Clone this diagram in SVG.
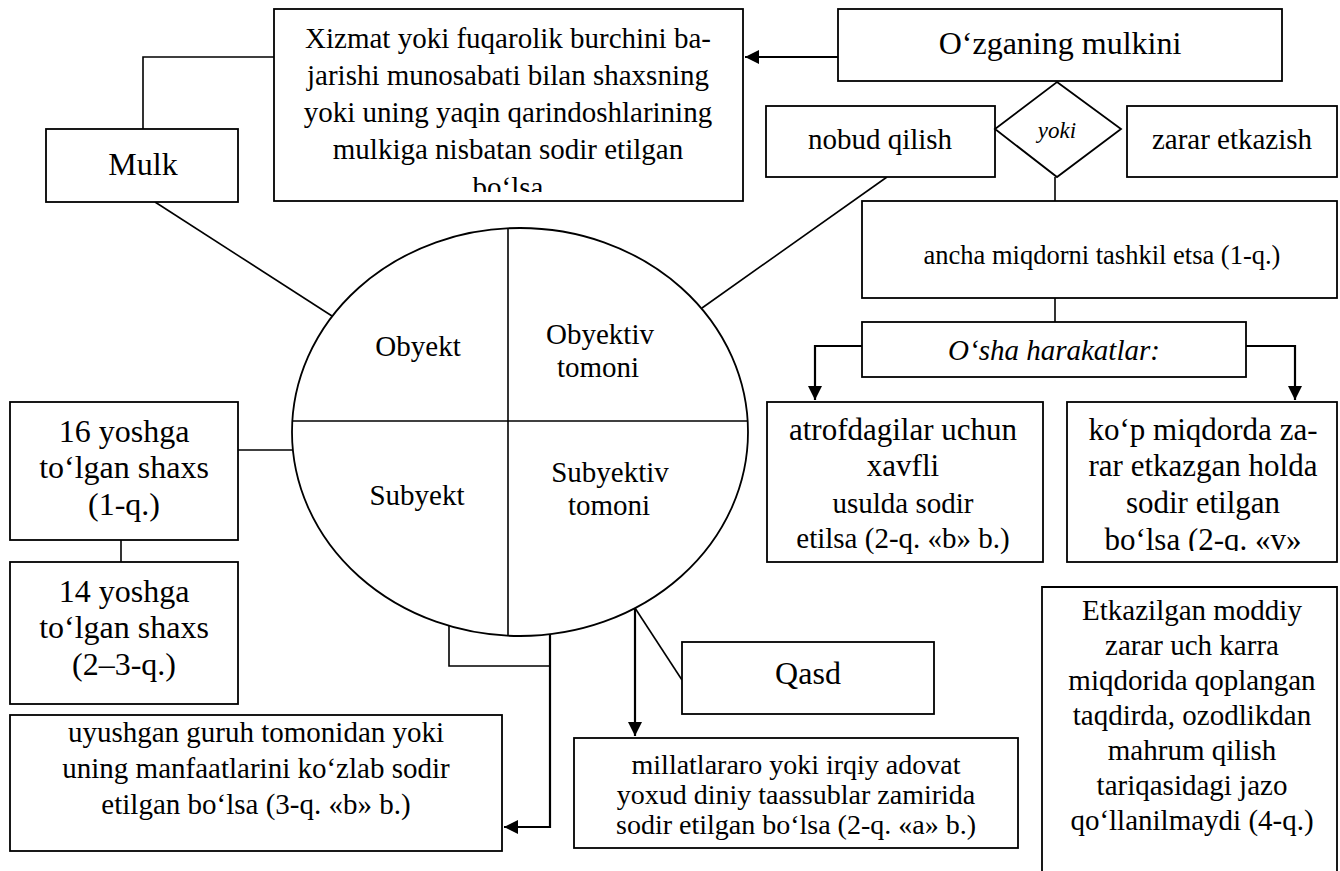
<svg xmlns="http://www.w3.org/2000/svg" width="1340" height="871" viewBox="0 0 1340 871">
<style>
  .box { fill: #fff; stroke: #000; stroke-width: 1.8; }
  .ln { fill: none; stroke: #000; stroke-width: 1.6; }
  .arr { fill: none; stroke: #000; stroke-width: 2.2; }
  text { font-family: "Liberation Serif", "Times New Roman", serif; fill: #000; text-anchor: middle; }
  .t32 { font-size: 32px; }
  .t31 { font-size: 31px; }
  .t29 { font-size: 29px; }
  .t28 { font-size: 28px; }
  .t26 { font-size: 26.5px; }
  .it { font-style: italic; }
</style>
<defs>
  <marker id="ah" viewBox="0 0 10 10" refX="10" refY="5" markerWidth="14" markerHeight="14" markerUnits="userSpaceOnUse" orient="auto">
    <path d="M0,0 L10,5 L0,10 Z" fill="#000"/>
  </marker>
  <clipPath id="cXiz"><rect x="275" y="10" width="467" height="182"/></clipPath>
  <clipPath id="cKop"><rect x="1068" y="403" width="268" height="148"/></clipPath>
</defs>

<g id="connectors">
  <polyline class="ln" points="143,129 143,57 274,57"/>
  <line class="arr" x1="838" y1="57" x2="745" y2="57" marker-end="url(#ah)"/>
  <line class="ln" x1="155" y1="202" x2="332" y2="316"/>
  <line class="ln" x1="887" y1="177" x2="702" y2="308"/>
  <line class="ln" x1="1055" y1="177" x2="1055" y2="201"/>
  <line class="ln" x1="1055" y1="298" x2="1055" y2="322"/>
  <polyline class="arr" points="862,346 815,346 815,400" marker-end="url(#ah)"/>
  <polyline class="arr" points="1246,346 1295,346 1295,400" marker-end="url(#ah)"/>
  <line class="ln" x1="238" y1="450" x2="293" y2="450"/>
  <line class="ln" x1="121" y1="540" x2="121" y2="562"/>
  <polyline class="ln" points="449,626 449,666 550,666"/>
  <polyline class="arr" points="550,634 550,827 504,827" marker-end="url(#ah)"/>
  <line class="arr" x1="635" y1="608" x2="635" y2="736" marker-end="url(#ah)"/>
  <line class="ln" x1="635" y1="608" x2="682" y2="680"/>
</g>

<g id="ellipse">
  <ellipse class="box" cx="520" cy="432" rx="228" ry="204"/>
  <line class="ln" x1="292.3" y1="421" x2="747.7" y2="421"/>
  <line class="ln" x1="508" y1="228.3" x2="508" y2="635.7"/>
  <text class="t29" x="418" y="356">Obyekt</text>
  <text class="t29" x="600" y="344">Obyektiv</text>
  <text class="t29" x="598" y="377">tomoni</text>
  <text class="t29" x="417" y="505">Subyekt</text>
  <text class="t29" x="610" y="482">Subyektiv</text>
  <text class="t29" x="609" y="515">tomoni</text>
</g>

<g id="node-xizmat">
  <rect class="box" x="274" y="9" width="469" height="192"/>
  <g clip-path="url(#cXiz)">
    <text class="t29" x="508" y="48">Xizmat yoki fuqarolik burchini ba-</text>
    <text class="t29" x="508" y="85">jarishi munosabati bilan shaxsning</text>
    <text class="t29" x="508" y="122">yoki uning yaqin qarindoshlarining</text>
    <text class="t29" x="508" y="159">mulkiga nisbatan sodir etilgan</text>
    <text class="t29" x="508" y="197">bo‘lsa</text>
  </g>
</g>

<g id="node-ozganing">
  <rect class="box" x="838" y="9" width="444" height="72"/>
  <text class="t32" x="1060" y="54">O‘zganing mulkini</text>
</g>

<g id="node-mulk">
  <rect class="box" x="46" y="129" width="192" height="73"/>
  <text class="t32" x="143" y="175">Mulk</text>
</g>

<g id="node-nobud">
  <rect class="box" x="766" y="106" width="229" height="71"/>
  <text class="t29" x="880" y="149">nobud qilish</text>
</g>

<g id="node-yoki">
  <polygon class="box" points="1057,82 1121,129 1057,177 995,129"/>
  <text class="it" style="font-size:23px" x="1057" y="138">yoki</text>
</g>

<g id="node-zarar">
  <rect class="box" x="1127" y="106" width="210" height="71"/>
  <text class="t29" x="1232" y="149">zarar etkazish</text>
</g>

<g id="node-ancha">
  <rect class="box" x="862" y="201" width="475" height="97"/>
  <text class="t26" x="1102" y="264">ancha miqdorni tashkil etsa (1-q.)</text>
</g>

<g id="node-osha">
  <rect class="box" x="862" y="322" width="384" height="55"/>
  <text class="t29 it" x="1054" y="360">O‘sha harakatlar:</text>
</g>

<g id="node-atrof">
  <rect class="box" x="767" y="402" width="276" height="160"/>
  <text class="t31" x="903" y="440">atrofdagilar uchun</text>
  <text class="t31" x="903" y="476">xavfli</text>
  <text class="t29" x="903" y="513">usulda sodir</text>
  <text class="t29" x="903" y="548">etilsa (2-q. «b» b.)</text>
</g>

<g id="node-kop">
  <rect class="box" x="1067" y="402" width="270" height="160"/>
  <g clip-path="url(#cKop)">
    <text class="t31" x="1203" y="440">ko‘p miqdorda za-</text>
    <text class="t31" x="1203" y="476">rar etkazgan holda</text>
    <text class="t31" x="1203" y="513">sodir etilgan</text>
    <text class="t31" x="1203" y="550">bo‘lsa (2-q. «v»</text>
  </g>
</g>

<g id="node-16">
  <rect class="box" x="10" y="402" width="228" height="138"/>
  <text class="t32" x="124" y="442">16 yoshga</text>
  <text class="t32" x="124" y="478">to‘lgan shaxs</text>
  <text class="t32" x="124" y="515">(1-q.)</text>
</g>

<g id="node-14">
  <rect class="box" x="10" y="562" width="228" height="142"/>
  <text class="t32" x="124" y="602">14 yoshga</text>
  <text class="t32" x="124" y="638">to‘lgan shaxs</text>
  <text class="t32" x="124" y="675">(2–3-q.)</text>
</g>

<g id="node-qasd">
  <rect class="box" x="682" y="642" width="252" height="72"/>
  <text class="t32" x="808" y="684">Qasd</text>
</g>

<g id="node-uyushgan">
  <rect class="box" x="10" y="715" width="492" height="136"/>
  <text class="t29" x="256" y="742">uyushgan guruh tomonidan yoki</text>
  <text class="t29" x="256" y="778">uning manfaatlarini ko‘zlab sodir</text>
  <text class="t29" x="256" y="814">etilgan bo‘lsa (3-q. «b» b.)</text>
</g>

<g id="node-millat">
  <rect class="box" x="574" y="738" width="444" height="110"/>
  <text class="t28" x="796" y="774">millatlararo yoki irqiy adovat</text>
  <text class="t28" x="796" y="804">yoxud diniy taassublar zamirida</text>
  <text class="t28" x="796" y="834">sodir etilgan bo‘lsa (2-q. «a» b.)</text>
</g>

<g id="node-etkazilgan">
  <path class="box" d="M1042,880 L1042,587 L1337,587 L1337,880"/>
  <text class="t29" x="1192" y="620">Etkazilgan moddiy</text>
  <text class="t29" x="1192" y="655">zarar uch karra</text>
  <text class="t29" x="1192" y="690">miqdorida qoplangan</text>
  <text class="t29" x="1192" y="725">taqdirda, ozodlikdan</text>
  <text class="t29" x="1192" y="760">mahrum qilish</text>
  <text class="t29" x="1192" y="795">tariqasidagi jazo</text>
  <text class="t29" x="1192" y="830">qo‘llanilmaydi (4-q.)</text>
</g>
</svg>
